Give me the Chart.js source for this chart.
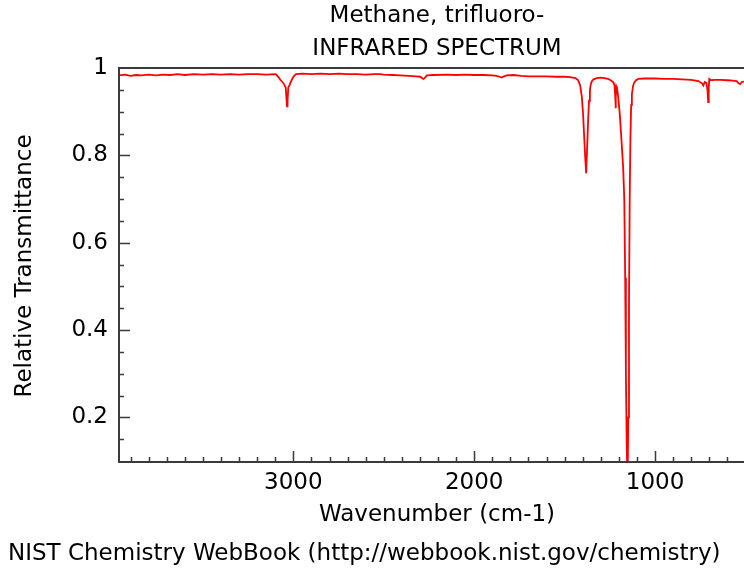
<!DOCTYPE html>
<html>
<head>
<meta charset="utf-8">
<script src="https://cdn.jsdelivr.net/npm/chart.js@4"></script>
<style>
  html, body { margin: 0; padding: 0; background: #fff; }
  #chart { display: block; }
</style>
</head>
<body>
<canvas id="chart" width="744" height="571"></canvas>
<script>
// spectrum (wavenumber in cm-1, transmittance)
const wavenumbers = [
  3964, 3930, 3900, 3870, 3840, 3800, 3760, 3720, 3680, 3640, 3600, 3550, 3500, 3450, 3400,
  3350, 3300, 3250, 3200, 3150, 3100, 3094, 3080, 3072, 3060, 3050, 3042, 3037, 3035, 3032,
  3028, 3020, 3010, 2998, 2985, 2950, 2900, 2850, 2800, 2750, 2700, 2650, 2600, 2550, 2519,
  2500, 2450, 2409, 2360, 2320, 2298, 2285, 2280, 2272, 2261, 2225, 2150, 2100, 2050, 2000,
  1950, 1900, 1875, 1860, 1847, 1835, 1820, 1783, 1740, 1700, 1672, 1600, 1550, 1500, 1470,
  1440, 1425, 1414, 1405, 1398, 1392, 1386, 1381, 1376, 1370, 1365, 1360, 1355, 1350, 1340,
  1322, 1300, 1280, 1260, 1245, 1230, 1224, 1220, 1218, 1216, 1214, 1211, 1207, 1203, 1195,
  1184, 1176, 1170, 1165, 1161, 1157, 1152, 1148, 1144, 1140, 1136, 1132, 1128,
  1122, 1116, 1105, 1092, 1060, 1000, 950, 900, 850, 800, 760, 740, 733, 725, 716,
  710, 706, 703, 700, 690, 670, 640, 600, 570, 549, 538, 530, 520, 508, 470, 450
];
const transmittance = [
  0.983, 0.985, 0.982, 0.984, 0.983, 0.985, 0.983, 0.985, 0.984, 0.986, 0.984, 0.986, 0.985, 0.986, 0.985,
  0.986, 0.985, 0.986, 0.986, 0.985, 0.986, 0.985, 0.978, 0.973, 0.968, 0.962, 0.955, 0.925, 0.912, 0.925,
  0.955, 0.962, 0.972, 0.981, 0.986, 0.987, 0.986, 0.987, 0.986, 0.987, 0.986, 0.986, 0.985, 0.986, 0.986,
  0.985, 0.984, 0.983, 0.982, 0.981, 0.980, 0.976, 0.975, 0.978, 0.983, 0.984, 0.985, 0.984, 0.985, 0.984,
  0.984, 0.983, 0.982, 0.980, 0.978, 0.981, 0.983, 0.984, 0.982, 0.981, 0.981, 0.981, 0.980, 0.980, 0.979,
  0.977, 0.972, 0.960, 0.935, 0.895, 0.845, 0.795, 0.759, 0.810, 0.880, 0.925, 0.950, 0.963, 0.969, 0.974,
  0.977, 0.978, 0.977, 0.975, 0.972, 0.967, 0.960, 0.935, 0.908, 0.935, 0.958, 0.955, 0.945, 0.931, 0.895,
  0.825, 0.770, 0.700, 0.520, 0.300, 0.150, 0.040, 0.200, 0.450, 0.700, 0.840, 0.915, 0.940,
  0.958, 0.966, 0.972, 0.975, 0.976, 0.976, 0.975, 0.975, 0.974, 0.973, 0.970, 0.965, 0.960, 0.968, 0.966,
  0.950, 0.922, 0.955, 0.975, 0.972, 0.973, 0.973, 0.972, 0.971, 0.970, 0.965, 0.963, 0.968, 0.969, 0.968, 0.968
];

const xMajorTicks = [3000, 2000, 1000];
const yTickLabels = ['0.2', '0.4', '0.6', '0.8', '1'];

const titleLines = ['Methane, trifluoro-', 'INFRARED SPECTRUM'];
const xTitle = 'Wavenumber (cm-1)';
const yTitle = 'Relative Transmittance';
const footer = 'NIST Chemistry WebBook (http://webbook.nist.gov/chemistry)';

const FONT = '"DejaVu Sans", sans-serif';
const FSIZE = 23;
const AXIS = '#3a3a3a';

const points = wavenumbers.map((w, i) => ({ x: w, y: transmittance[i] }));

// frame, inward ticks and the texts around the plot
const frame = {
  id: 'frame',
  afterDraw(chart) {
    const { ctx, chartArea: a, scales } = chart;
    const xs = scales.x, ys = scales.y;
    ctx.save();
    ctx.strokeStyle = AXIS;
    ctx.lineWidth = 2;
    ctx.beginPath();
    ctx.moveTo(a.right + 2, a.top);
    ctx.lineTo(a.left, a.top);
    ctx.lineTo(a.left, a.bottom);
    ctx.lineTo(a.right + 2, a.bottom);
    ctx.stroke();

    ctx.lineWidth = 1.5;
    ctx.beginPath();
    for (let w = 3900; w >= 500; w -= 100) {
      const px = Math.round(xs.getPixelForValue(w)) + 0.5;
      const len = w % 1000 === 0 ? 11 : 5;
      ctx.moveTo(px, a.bottom);
      ctx.lineTo(px, a.bottom - len);
    }
    for (let k = 3; k <= 19; k++) {
      const v = k * 0.05;
      const py = Math.round(ys.getPixelForValue(v)) + 0.5;
      const len = k % 4 === 0 ? 11 : 5;
      ctx.moveTo(a.left, py);
      ctx.lineTo(a.left + len, py);
    }
    ctx.stroke();

    const cx = 437;
    ctx.fillStyle = '#000';
    ctx.textAlign = 'center';
    ctx.textBaseline = 'middle';
    ctx.font = FSIZE + 'px ' + FONT;
    ctx.fillText(titleLines[0], cx, 16);
    ctx.fillText(titleLines[1], cx, 49);
    ctx.fillText(xTitle, cx, 515);
    ctx.textAlign = 'left';
    ctx.fillText(footer, 8, 554);
    ctx.translate(25, 266);
    ctx.rotate(-Math.PI / 2);
    ctx.textAlign = 'center';
    ctx.fillText(yTitle, 0, 0);
    ctx.restore();
  }
};

const ctx = document.getElementById('chart').getContext('2d');
const chart = new Chart(ctx, {
  type: 'line',
  data: {
    datasets: [{
      data: points,
      borderColor: '#ff0000',
      borderWidth: 1.8,
      pointRadius: 0,
      tension: 0,
      fill: false
    }]
  },
  options: {
    responsive: false,
    animation: false,
    layout: { padding: { left: 0, top: 68, right: 0, bottom: 0 } },
    plugins: {
      legend: { display: false },
      tooltip: { enabled: false },
      title: { display: false }
    },
    scales: {
      x: {
        type: 'linear',
        reverse: true,
        min: 508,
        max: 3964,
        afterBuildTicks: (s) => { s.ticks = xMajorTicks.map(v => ({ value: v })); },
        afterFit: (s) => { s.height = 109; },
        ticks: {
          padding: 7,
          color: '#000',
          font: { family: FONT, size: FSIZE },
          maxRotation: 0,
          autoSkip: false,
          callback: (v) => String(v)
        },
        grid: { display: false, drawTicks: false },
        border: { display: false }
      },
      y: {
        min: 0.098,
        max: 1,
        afterBuildTicks: (s) => { s.ticks = yTickLabels.map(t => ({ value: parseFloat(t) })); },
        afterFit: (s) => { s.width = 119; },
        ticks: {
          padding: 11,
          color: '#000',
          font: { family: FONT, size: FSIZE },
          autoSkip: false,
          callback: (v) => yTickLabels.find(t => parseFloat(t) === v) || ''
        },
        grid: { display: false, drawTicks: false },
        border: { display: false }
      }
    }
  },
  plugins: [frame]
});
</script>
</body>
</html>
